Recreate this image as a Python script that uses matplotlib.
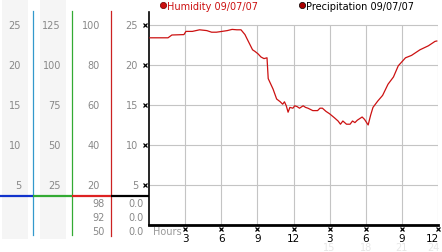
import numpy as np
import matplotlib.pyplot as plt
import matplotlib.transforms as mtransforms
from matplotlib.patches import Rectangle

# %% Data
hours = [0.08, 1.58, 1.9, 2.9, 3.07, 3.6, 4.2, 4.8, 5.2, 5.6, 6.06, 6.5, 6.9, 7.3, 7.64,
         7.97, 8.1, 8.6, 8.8, 9.05, 9.3, 9.55, 9.8, 9.9, 10.3, 10.6, 10.9, 11.1, 11.25,
         11.4, 11.55, 11.7, 11.95, 12.1, 12.3, 12.5, 12.8, 13.0, 13.2, 13.6, 14.0, 14.2,
         14.4, 14.7, 15.0, 15.4, 15.7, 15.9, 16.1, 16.4, 16.7, 16.9, 17.1, 17.3, 17.7,
         17.9, 18.2, 18.4, 18.6, 19.0, 19.4, 19.85, 20.3, 20.7, 21.3, 21.8, 22.5, 23.2,
         23.75, 23.9]
humidity = [23.4, 23.4, 23.75, 23.8, 24.2, 24.2, 24.4, 24.3, 24.1, 24.1, 24.2, 24.3, 24.45,
            24.4, 24.4, 23.8, 23.4, 21.9, 21.7, 21.4, 21.0, 20.8, 20.9, 18.3, 17.0, 15.75,
            15.4, 15.1, 15.4, 14.9, 14.1, 14.7, 14.6, 14.9, 14.8, 14.6, 14.9, 14.7, 14.6,
            14.3, 14.3, 14.6, 14.6, 14.2, 13.9, 13.4, 13.0, 12.6, 13.0, 12.6, 12.6, 13.0,
            12.8, 13.1, 13.5, 13.2, 12.5, 13.7, 14.7, 15.5, 16.2, 17.6, 18.5, 19.9, 20.9,
            21.2, 21.9, 22.4, 22.95, 23.0]

y_ticks = [5, 10, 15, 20, 25]
col1_labels = ['5', '10', '15', '20', '25']
col2_labels = ['25', '50', '75', '100', '125']
col3_labels = ['20', '40', '60', '80', '100']
col4_labels = ['5', '10', '15', '20', '25']
col3_extra = ['98', '92', '50']
col4_extra = ['0.0', '0.0', '0.0']

x_ticks = [3, 6, 9, 12, 15, 18, 21, 24]
x_labels = ['3', '6', '9', '12', '3', '6', '9', '12']
x_labels_24 = {15: '15', 18: '18', 21: '21', 24: '24'}

# %% Figure
W, H = 442, 253
fig = plt.figure(figsize=(W / 100, H / 100), dpi=100)
fig.patch.set_facecolor('white')

# background axes in pixel units
bg = fig.add_axes([0, 0, 1, 1])
bg.set_xlim(0, W)
bg.set_ylim(H, 0)
bg.axis('off')

# main plot axes
left, right, top, bottom = 149, 438, 13, 226
ax = fig.add_axes([left / W, (H - bottom) / H, (right - left) / W, (bottom - top) / H])
ax.set_xlim(0, 24)
ax.set_ylim(0, (bottom - top) / 8)
ax.patch.set_alpha(0)

# grid only up to 25
ax.hlines(y_ticks, 0, 24, color='#c4c4c4', lw=0.8, zorder=1)
ax.vlines(x_ticks, 0, 25, color='#c4c4c4', lw=0.8, zorder=1)

ax.plot(hours, humidity, color='#cc1111', lw=0.9, zorder=3)

for s in ['top', 'right']:
    ax.spines[s].set_visible(False)
ax.spines['left'].set_linewidth(1.2)
ax.spines['bottom'].set_linewidth(2)
ax.set_xticks([])
ax.set_yticks([])

# tick markers
ax.plot([-0.35] * len(y_ticks), y_ticks, ls='none', marker='x', ms=2.5, mew=0.9,
        color='black', clip_on=False)
xt = mtransforms.blended_transform_factory(ax.transData, bg.transData)
ax.plot(x_ticks, [230] * len(x_ticks), ls='none', marker='x', ms=2.5, mew=0.9,
        color='black', clip_on=False, transform=xt)
for xv, lab in zip(x_ticks, x_labels):
    last = xv == x_ticks[-1]
    ax.text(xv + (0.1 if last else 0), 239, lab, transform=xt,
            ha='right' if last else 'center', va='center', fontsize=7.5, color='black')
for xv, lab in x_labels_24.items():
    last = xv == x_ticks[-1]
    ax.text(xv + (0.1 if last else 0), 248, lab, transform=xt,
            ha='right' if last else 'center', va='center', fontsize=7, color='#e6e6e6')
bg.text(153, 232, 'Hours', ha='left', va='center', fontsize=7, color='#999999')

# left panel: shaded columns and coloured scale lines
bg.add_patch(Rectangle((2, 0), 26, 240, color='#f5f5f5', lw=0, zorder=0))
bg.add_patch(Rectangle((40, 0), 26, 240, color='#f5f5f5', lw=0, zorder=0))
bg.plot([33, 33], [12, 236], color='#3399cc', lw=0.9)
bg.plot([72, 72], [12, 236], color='#33aa33', lw=0.9)
bg.plot([111, 111], [12, 237], color='#cc2222', lw=0.9)
bg.plot([0, 33], [197, 197], color='#1133cc', lw=1.6, solid_capstyle='butt')
bg.plot([33, 72], [197, 197], color='#33aa33', lw=1.6, solid_capstyle='butt')
bg.plot([72, 111], [197, 197], color='#dd2222', lw=1.6, solid_capstyle='butt')
bg.plot([111, 149], [197, 197], color='black', lw=1.6, solid_capstyle='butt')

yt = mtransforms.blended_transform_factory(bg.transData, ax.transData)
for labels, xr in [(col1_labels, 21), (col2_labels, 61), (col3_labels, 100), (col4_labels, 138)]:
    for v, lab in zip(y_ticks, labels):
        bg.text(xr, v, lab, transform=yt, ha='right', va='center', fontsize=7,
                color='#888888')
for yy, a, b in zip([204, 218, 232], col3_extra, col4_extra):
    bg.text(105, yy, a, ha='right', va='center', fontsize=7, color='#888888')
    bg.text(144, yy, b, ha='right', va='center', fontsize=7, color='#888888')

# legend
bg.plot([163], [6], marker='o', ms=4.5, color='#cc1111', mec='#660000', mew=0.5)
bg.text(167, 6.5, 'Humidity 09/07/07', ha='left', va='center', fontsize=7,
        color='#cc1111')
bg.plot([302], [6], marker='o', ms=4.5, color='#aa0000', mec='black', mew=0.5)
bg.text(306, 6.5, 'Precipitation 09/07/07', ha='left', va='center', fontsize=7,
        color='black')

fig.savefig('out.png', dpi=100)
